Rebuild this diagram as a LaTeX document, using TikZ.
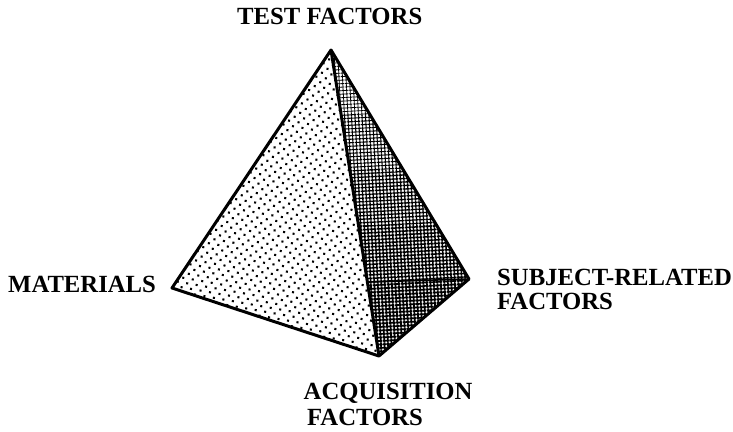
\documentclass[tikz,border=0pt]{standalone}
\usepackage{fontspec}
\setmainfont{Liberation Serif}
\usetikzlibrary{patterns.meta}
\tikzset{
  every picture/.style={line join=round},
  lbl/.style={font=\bfseries\fontsize{24.7}{25}\selectfont, inner sep=0pt, anchor=base west},
  edge/.style={draw=black, line width=3pt},
  dotsface/.style={pattern={Dots[distance=6.8pt,radius=1.45pt,angle=35]},pattern color=black},
  meshh/.style={pattern={Lines[distance=3.5pt,line width=#1,angle=3]},pattern color=black},
  meshv/.style={pattern={Lines[distance=3.5pt,line width=#1,angle=93]},pattern color=black},
}
\begin{document}
\begin{tikzpicture}[x=1pt,y=-1pt]
\useasboundingbox (0,0) rectangle (733,431);
\coordinate (T) at (331,50);
\coordinate (L) at (172,288);
\coordinate (B) at (379,356);
\coordinate (R) at (469,279);
\coordinate (M) at (367.5,282);
\fill[dotsface] (T) -- (L) -- (B) -- cycle;
\foreach \ya/\yb/\w in {0/115/0.8pt,115/170/1.05pt,170/225/1.3pt,225/290/1.5pt}{
  \begin{scope}
  \clip (0,\ya) rectangle (733,\yb);
  \fill[meshh=\w] (T) -- (M) -- (R) -- cycle;
  \fill[meshv=\w] (T) -- (M) -- (R) -- cycle;
  \end{scope}
}
\fill[meshh=1.7pt] (M) -- (R) -- (B) -- cycle;
\fill[meshv=1.7pt] (M) -- (R) -- (B) -- cycle;
\draw[edge] (T) -- (L) -- (B) -- (R) -- cycle;
\draw[edge] (T) -- (B);
\draw[black, line width=1.6pt] (M) -- (R);
\node[lbl] (tf) at (237,24) {TEST FACTORS};
\node[lbl] (mat) at (8,292) {MATERIALS};
\node[lbl] (sub) at (497,285.5) {SUBJECT-RELATED};
\node[lbl] (sub2) at (497,309) {FACTORS};
\node[lbl] (acq) at (303.5,399) {ACQUISITION};
\node[lbl] (acq2) at (307,425.5) {FACTORS};
\end{tikzpicture}
\end{document}
